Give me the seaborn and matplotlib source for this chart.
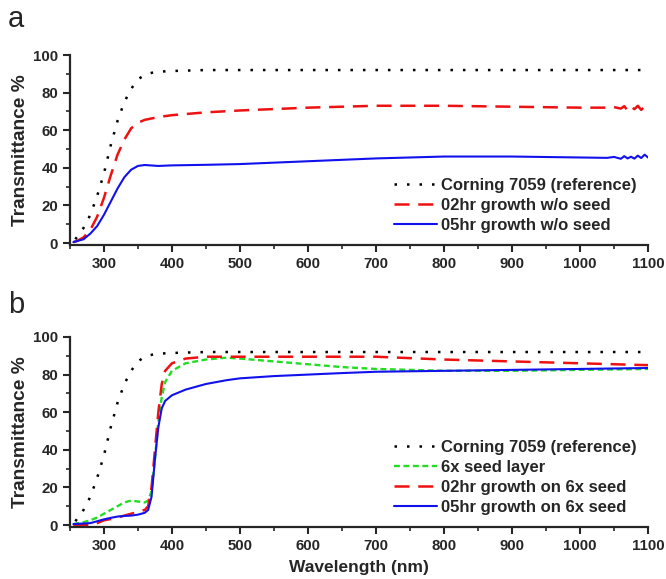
import matplotlib
matplotlib.use('Agg')
import matplotlib.pyplot as plt
import seaborn as sns
import pandas as pd

# ---- data ----
wl_ref = [258, 262, 270, 280, 290, 300, 310, 320, 330, 340, 350, 360, 375, 400, 450, 500, 700, 900, 1100]
t_ref = [2, 4, 8, 15, 25, 37, 52, 65, 75, 82, 87, 89.5, 91, 91.5, 92, 92, 92, 92, 92]

wl_a = [255, 260, 270, 280, 290, 300, 310, 320, 330, 340, 350, 360, 380, 400, 450, 500, 600, 700, 800,
        900, 1000, 1040, 1050, 1060, 1065, 1070, 1075, 1080, 1085, 1090, 1095, 1100]
t_a02 = [0.5, 1, 3, 7, 14, 24, 36, 47, 55, 61, 64, 65.5, 67, 68, 69.5, 70.5, 72, 73, 73, 72.5,
         72, 72, 72.3, 71.5, 72.8, 70.5, 72.5, 71.2, 73, 70.8, 72.6, 71.5]
t_a05 = [0.5, 1, 2, 5, 9, 15, 22, 29, 35, 39, 41, 41.5, 41, 41.3, 41.6, 42, 43.5, 45, 46, 46,
         45.5, 45.3, 45.8, 44.8, 46.2, 45, 45.9, 44.9, 46.5, 45.2, 47, 45.5]

wl_b = [255, 270, 280, 290, 300, 310, 320, 330, 340, 350, 360, 365, 370, 375, 380, 385, 390, 400,
        420, 450, 480, 500, 550, 600, 650, 700, 800, 900, 1000, 1100]
t_seed = [0.5, 1.5, 2.5, 4, 6, 8, 10, 12, 13, 12.5, 12, 13, 18, 35, 55, 68, 76, 82,
          86, 88, 89, 88.5, 87, 85.5, 84, 83, 82, 82, 82.5, 83]
t_b02 = [0, 0, 0, 1, 2.5, 3.2, 4, 5, 6, 7, 8, 10, 20, 40, 60, 75, 82, 86,
         88.5, 89.5, 89.5, 89.5, 89.5, 89.5, 89.5, 89.5, 88, 87, 86, 85]
t_b05 = [0.5, 0.8, 1, 2, 3, 3.8, 4.5, 4.8, 5, 5.5, 6.5, 8, 15, 35, 52, 62, 66, 69,
         72, 75, 77, 78, 79.2, 80, 80.8, 81.5, 82, 82.5, 83, 83.5]

labels_a = ['Corning 7059 (reference)', '02hr growth w/o seed', '05hr growth w/o seed']
labels_b = ['Corning 7059 (reference)', '6x seed layer', '02hr growth on 6x seed', '05hr growth on 6x seed']

sns.set_style('ticks')
plt.rcParams['font.family'] = ['Liberation Sans', 'DejaVu Sans']
plt.rcParams['font.weight'] = 'bold'

fig = plt.figure(figsize=(6.66, 5.79), dpi=100)
ax_a = fig.add_axes([0.105, 0.577, 0.868, 0.328])
ax_b = fig.add_axes([0.105, 0.090, 0.868, 0.328])

styles = {
    'ref': dict(color='black', linestyle=(0, (1, 4)), lw=1.8),
    'seed': dict(color='#22dd22', linestyle=(0, (2.5, 1.5)), lw=1.7),
    'h02': dict(color='#ee1111', linestyle=(0, (6, 3.5)), lw=1.8),
    'h05': dict(color='#1111ee', linestyle='-', lw=1.5),
}

sns.lineplot(x=wl_ref, y=t_ref, ax=ax_a, label=labels_a[0], **styles['ref'])
sns.lineplot(x=wl_a, y=t_a02, ax=ax_a, label=labels_a[1], **styles['h02'])
sns.lineplot(x=wl_a, y=t_a05, ax=ax_a, label=labels_a[2], **styles['h05'])

sns.lineplot(x=wl_ref, y=t_ref, ax=ax_b, label=labels_b[0], **styles['ref'])
sns.lineplot(x=wl_b, y=t_seed, ax=ax_b, label=labels_b[1], **styles['seed'])
sns.lineplot(x=wl_b, y=t_b02, ax=ax_b, label=labels_b[2], **styles['h02'])
sns.lineplot(x=wl_b, y=t_b05, ax=ax_b, label=labels_b[3], **styles['h05'])

for ax in (ax_a, ax_b):
    ax.set_xlim(250, 1100)
    ax.set_ylim(-1, 100)
    ax.set_xticks(range(300, 1101, 100))
    ax.set_xticks(range(250, 1101, 50), minor=True)
    ax.set_yticks(range(0, 101, 20))
    ax.set_yticks(range(0, 101, 10), minor=True)
    ax.tick_params(which='major', length=5, width=1.5, labelsize=10.8)
    ax.tick_params(which='minor', length=3, width=1.2)
    for lab in ax.get_xticklabels() + ax.get_yticklabels():
        lab.set_fontweight('bold')
    for s in ('left', 'bottom'):
        ax.spines[s].set_linewidth(1.6)
    sns.despine(ax=ax)
    ax.set_ylabel('Transmittance %', fontsize=13.8, fontweight='bold', labelpad=3)
    ax.legend(loc='lower right', frameon=False, handlelength=2.6,
              handletextpad=0.2, labelspacing=0.3, borderaxespad=0.3,
              prop={'weight': 'bold', 'size': 12})

ax_b.set_xlabel('Wavelength (nm)', fontsize=12.5, fontweight='bold', labelpad=5)
ax_a.set_xlabel('')

fig.text(0.012, 0.968, 'a', fontsize=21, fontweight='normal', va='center')
fig.text(0.012, 0.474, 'b', fontsize=21, fontweight='normal', va='center')

fig.savefig('out.png', dpi=100)
